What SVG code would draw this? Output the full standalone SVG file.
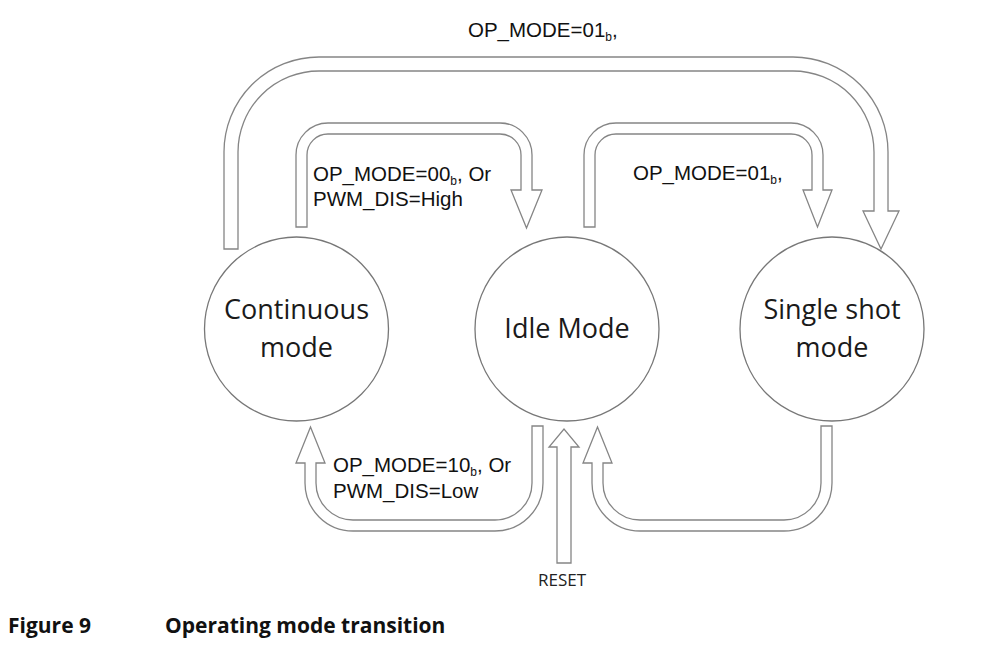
<svg xmlns="http://www.w3.org/2000/svg" width="1000" height="649" viewBox="0 0 1000 649">
<style>
.bg{fill:#ffffff}
.node circle{fill:#ffffff;stroke:#777777;stroke-width:1.3}
.node text{font-family:"Open Sans","Noto Sans",sans-serif;font-size:27px;fill:#1a1a1a;text-anchor:middle}
.arr{fill:#ffffff;stroke:#858585;stroke-width:1.3;stroke-linejoin:miter}
.lbl{font-family:"Liberation Sans",Arial,sans-serif;font-size:20.5px;fill:#111111}
.sub{font-size:12px}
.reset{font-family:"Open Sans","Noto Sans",sans-serif;font-size:17px;fill:#222222}
.cap{font-family:"Open Sans","Noto Sans",sans-serif;font-size:21px;font-weight:bold;fill:#111111}
</style>
<rect class="bg" x="0" y="0" width="1000" height="649"/>
<g id="connectors">
  <path id="c-cont-single" class="arr" d="M224 249 L224 152 A95 95 0 0 1 319 57 L793 57 A95 95 0 0 1 888 152 L888 211 L899 211 L881 249 L863 211 L874 211 L874 152 A81 81 0 0 0 793 71 L319 71 A81 81 0 0 0 238 152 L238 249 Z"/>
  <path id="c-cont-idle" class="arr" d="M296 227 L296 155 A32 32 0 0 1 328 123 L500 123 A32 32 0 0 1 532 155 L532 190 L542 190 L526.5 228 L511 190 L521 190 L521 155 A21 21 0 0 0 500 134 L328 134 A21 21 0 0 0 307 155 L307 227 Z"/>
  <path id="c-idle-single" class="arr" d="M584 227 L584 155 A32 32 0 0 1 616 123 L791 123 A32 32 0 0 1 823 155 L823 190 L832 190 L817.5 227 L803 190 L812 190 L812 155 A21 21 0 0 0 791 134 L616 134 A21 21 0 0 0 595 155 L595 227 Z"/>
  <path id="c-idle-cont" class="arr" d="M532 426 L543 426 L543 483 A48 48 0 0 1 495 531 L353 531 A48 48 0 0 1 305 483 L305 463 L296 463 L310.5 427 L325 463 L316 463 L316 483 A37 37 0 0 0 353 520 L495 520 A37 37 0 0 0 532 483 Z"/>
  <path id="c-single-idle" class="arr" d="M821 426 L832 426 L832 483 A48 48 0 0 1 784 531 L640 531 A48 48 0 0 1 592 483 L592 463 L583 463 L597.5 427 L612 463 L603 463 L603 483 A37 37 0 0 0 640 520 L784 520 A37 37 0 0 0 821 483 Z"/>
  <path id="c-reset" class="arr" d="M557 563 L557 447 L549 447 L564 429 L579 447 L571 447 L571 563 Z"/>
  <text class="lbl" x="468" y="37">OP_MODE=01<tspan class="sub" dy="4">b</tspan><tspan dy="-4">,</tspan></text>
  <text class="lbl" x="313" y="181">OP_MODE=00<tspan class="sub" dy="4">b</tspan><tspan dy="-4">, Or</tspan></text>
  <text class="lbl" x="313" y="206">PWM_DIS=High</text>
  <text class="lbl" x="633" y="180">OP_MODE=01<tspan class="sub" dy="4">b</tspan><tspan dy="-4">,</tspan></text>
  <text class="lbl" x="333" y="472">OP_MODE=10<tspan class="sub" dy="4">b</tspan><tspan dy="-4">, Or</tspan></text>
  <text class="lbl" x="333" y="498">PWM_DIS=Low</text>
  <text class="reset" x="538" y="586">RESET</text>
</g>
<g id="node-continuous" class="node">
  <circle cx="296.5" cy="329" r="92"/>
  <text x="296.5" y="319">Continuous</text>
  <text x="296.5" y="357">mode</text>
</g>
<g id="node-idle" class="node">
  <circle cx="567" cy="329" r="92"/>
  <text x="567" y="338">Idle Mode</text>
</g>
<g id="node-single" class="node">
  <circle cx="832" cy="329" r="92"/>
  <text x="832" y="319">Single shot</text>
  <text x="832" y="357">mode</text>
</g>
<g id="caption">
  <text class="cap" x="8" y="633">Figure 9</text>
  <text class="cap" x="165" y="633">Operating mode transition</text>
</g>
</svg>
